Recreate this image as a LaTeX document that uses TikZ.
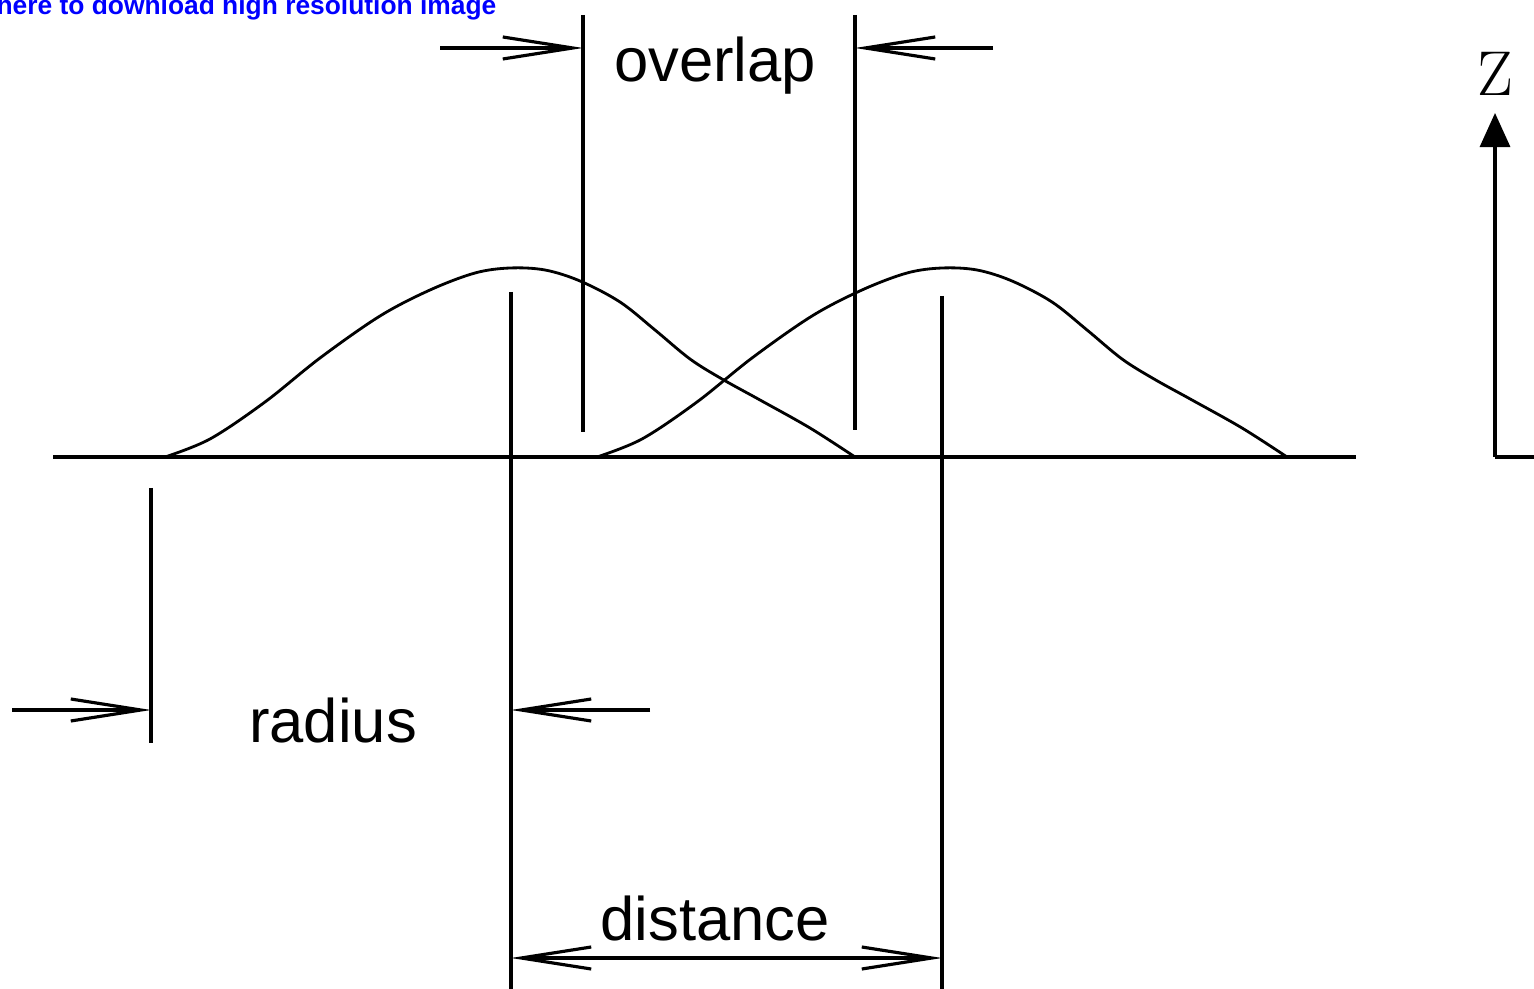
\documentclass[tikz,border=0pt]{standalone}
\usepackage{fontspec}
\setsansfont{Liberation Sans}
\usetikzlibrary{arrows.meta}

\begin{document}
\begin{tikzpicture}[x=0.01cm,y=-0.01cm,line width=0.9pt,
  dim/.style={-{Straight Barb[length=7mm,width=2.2mm]}},
  dimboth/.style={{Straight Barb[length=7mm,width=2.2mm]}-{Straight Barb[length=7mm,width=2.2mm]}},
  lbl/.style={font=\sffamily\fontsize{17.5}{20}\selectfont,inner sep=0pt,anchor=base},
  bell/.style={line width=0.8pt,smooth,tension=0.55}]
  \useasboundingbox (0,0) rectangle (1534,989);
  \node[anchor=base west,inner sep=0pt,text=blue,font=\sffamily\bfseries\fontsize{7.5}{9}\selectfont] (link) at (-5,15) {here to download high resolution image};

  % ground line and the two bells
  \coordinate (g0) at (53,457);
  \coordinate (g1) at (1356,457);
  \draw (g0) -- (g1);
  \foreach \sx in {0,432}
    \draw[bell,xshift=\sx*0.01cm] plot coordinates {(165,457) (210,439) (265,402) (320,358) (380,316) (430,290) (475,273) (510,268) (545,270) (580,281) (620,302) (655,330) (690,359) (722,379) (760,400) (810,428) (855,457)};

  % vertical marks
  \coordinate (ovLt) at (583,15);  \coordinate (ovLb) at (583,432);
  \coordinate (ovRt) at (855,15);  \coordinate (ovRb) at (855,430);
  \coordinate (rdt) at (151,488);  \coordinate (rdb) at (151,743);
  \coordinate (pkLt) at (511,292); \coordinate (pkLb) at (511,989);
  \coordinate (pkRt) at (942,296); \coordinate (pkRb) at (942,989);
  \draw (ovLt) -- (ovLb);
  \draw (ovRt) -- (ovRb);
  \draw (rdt) -- (rdb);
  \draw (pkLt) -- (pkLb);
  \draw (pkRt) -- (pkRb);

  % overlap
  \coordinate (ovA) at (440,48);  \coordinate (ovL) at (583,48);
  \coordinate (ovB) at (993,48);  \coordinate (ovR) at (855,48);
  \draw[dim] (ovA) -- (ovL);
  \draw[dim] (ovB) -- (ovR);
  \node[lbl] (overlap) at (715,82) {overlap};

  % radius
  \coordinate (rdA) at (12,710);  \coordinate (rdL) at (151,710);
  \coordinate (rdB) at (650,710); \coordinate (rdR) at (511,710);
  \draw[dim] (rdA) -- (rdL);
  \draw[dim] (rdB) -- (rdR);
  \node[lbl] (radius) at (333,742) {radius};

  % distance
  \coordinate (dsL) at (511,958); \coordinate (dsR) at (942,958);
  \draw[dimboth] (dsL) -- (dsR);
  \node[lbl] (distance) at (715,940) {distance};

  % z axis
  \coordinate (zo) at (1495,457);
  \coordinate (zt) at (1495,113);
  \coordinate (zx) at (1534,457);
  \draw[-{Triangle[length=3.4mm,width=3mm]}] (zo) -- (zt);
  \draw (zo) -- (zx);
  \node[font=\rmfamily\fontsize{18}{20}\selectfont,inner sep=0pt] (zlbl) at (1495,74) {Z};
\end{tikzpicture}
\end{document}
